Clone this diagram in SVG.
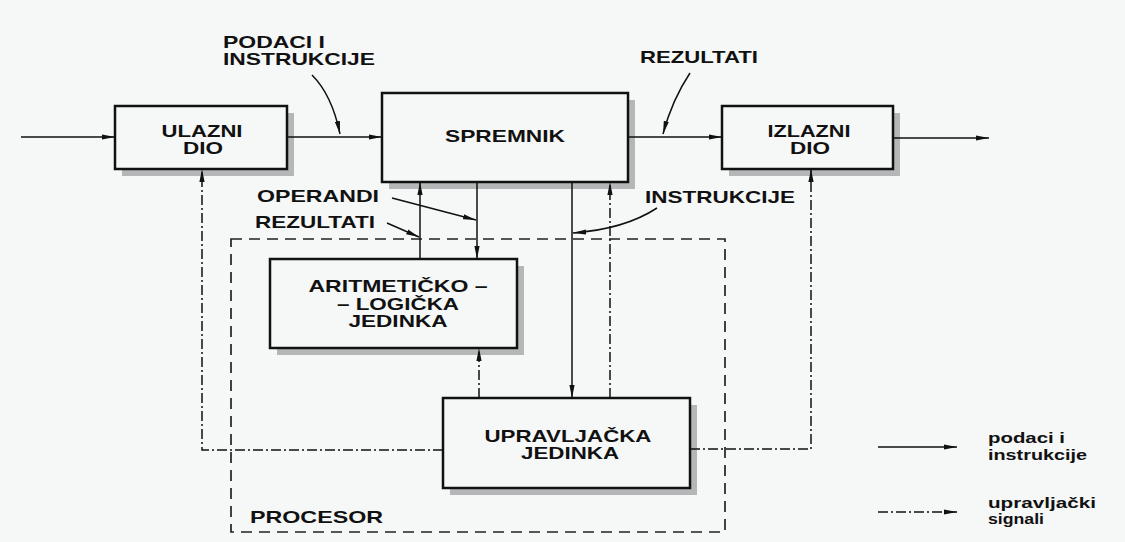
<svg xmlns="http://www.w3.org/2000/svg" width="1125" height="542" viewBox="0 0 1125 542">
<defs>
<marker id="ah" viewBox="0 0 13 6" refX="13" refY="3" markerWidth="13" markerHeight="6" markerUnits="userSpaceOnUse" orient="auto">
<path d="M0,0.4 L13,3 L0,5.6 Z" fill="#111"/>
</marker>
</defs>
<style>
.box{fill:#f6f7f7;stroke:#111;stroke-width:2.5}
.sh{fill:#b4b6b8}
.t{font-family:"Liberation Sans",Arial,sans-serif;font-weight:bold;font-size:17px;fill:#111}
.lg{font-family:"Liberation Sans",Arial,sans-serif;font-weight:bold;font-size:15px;fill:#111}
.s{fill:none;stroke:#111;stroke-width:1.5}
.dd{fill:none;stroke:#111;stroke-width:1.5;stroke-dasharray:10 3 2 3}
.dash{fill:none;stroke:#222;stroke-width:1.7;stroke-dasharray:11 7}
</style>
<rect x="0" y="0" width="1125" height="542" fill="#f6f7f7"/>

<g id="procesor">
<rect x="231" y="239" width="494" height="293" class="dash"/>
<text class="t" x="250" y="523" textLength="133" lengthAdjust="spacingAndGlyphs">PROCESOR</text>
</g>

<g id="ulazni">
<rect x="122" y="113" width="172" height="63" class="sh"/>
<rect x="115" y="106" width="172" height="63" class="box"/>
<text class="t" x="202" y="137" text-anchor="middle" textLength="81" lengthAdjust="spacingAndGlyphs">ULAZNI</text>
<text class="t" x="203" y="154" text-anchor="middle" textLength="40" lengthAdjust="spacingAndGlyphs">DIO</text>
</g>

<g id="spremnik">
<rect x="389" y="100" width="246" height="89" class="sh"/>
<rect x="382" y="93" width="246" height="89" class="box"/>
<text class="t" x="505" y="142" text-anchor="middle" textLength="120" lengthAdjust="spacingAndGlyphs">SPREMNIK</text>
</g>

<g id="izlazni">
<rect x="729" y="113" width="171" height="63" class="sh"/>
<rect x="722" y="106" width="171" height="63" class="box"/>
<text class="t" x="809" y="137" text-anchor="middle" textLength="83" lengthAdjust="spacingAndGlyphs">IZLAZNI</text>
<text class="t" x="810" y="154" text-anchor="middle" textLength="40" lengthAdjust="spacingAndGlyphs">DIO</text>
</g>

<g id="alu">
<rect x="277" y="266" width="247" height="89" class="sh"/>
<rect x="270" y="259" width="247" height="89" class="box"/>
<text class="t" x="398" y="292" text-anchor="middle" textLength="179" lengthAdjust="spacingAndGlyphs">ARITMETIČKO –</text>
<text class="t" x="398" y="310" text-anchor="middle" textLength="122" lengthAdjust="spacingAndGlyphs">– LOGIČKA</text>
<text class="t" x="398" y="327" text-anchor="middle" textLength="99" lengthAdjust="spacingAndGlyphs">JEDINKA</text>
</g>

<g id="upravljacka">
<rect x="450" y="405" width="247" height="90" class="sh"/>
<rect x="443" y="398" width="247" height="90" class="box"/>
<text class="t" x="568" y="442" text-anchor="middle" textLength="167" lengthAdjust="spacingAndGlyphs">UPRAVLJAČKA</text>
<text class="t" x="570" y="459" text-anchor="middle" textLength="98" lengthAdjust="spacingAndGlyphs">JEDINKA</text>
</g>

<g id="connectors">
<path class="s" d="M21,137 H115" marker-end="url(#ah)"/>
<path class="s" d="M287,137 H382" marker-end="url(#ah)"/>
<path class="s" d="M628,137 H722" marker-end="url(#ah)"/>
<path class="s" d="M893,138 H989" marker-end="url(#ah)"/>
<path class="s" d="M420,259 V182" marker-end="url(#ah)"/>
<path class="s" d="M477,182 V259" marker-end="url(#ah)"/>
<path class="s" d="M572,182 V398" marker-end="url(#ah)"/>
<path class="dd" d="M610,398 V182" marker-end="url(#ah)"/>
<path class="dd" d="M479,398 V348" marker-end="url(#ah)"/>
<path class="dd" d="M443,450 H202 V169" marker-end="url(#ah)"/>
<path class="dd" d="M690,449 H811 V169" marker-end="url(#ah)"/>
</g>

<g id="labels">
<text class="t" x="223" y="48" textLength="102" lengthAdjust="spacingAndGlyphs">PODACI I</text>
<text class="t" x="223" y="65" textLength="152" lengthAdjust="spacingAndGlyphs">INSTRUKCIJE</text>
<path class="s" d="M312,75 Q332,95 340,134" marker-end="url(#ah)"/>
<text class="t" x="640" y="63" textLength="118" lengthAdjust="spacingAndGlyphs">REZULTATI</text>
<path class="s" d="M690,73 Q672,100 663,134" marker-end="url(#ah)"/>
<text class="t" x="257" y="202" textLength="122" lengthAdjust="spacingAndGlyphs">OPERANDI</text>
<path class="s" d="M392,198 L476,220" marker-end="url(#ah)"/>
<text class="t" x="255" y="228" textLength="120" lengthAdjust="spacingAndGlyphs">REZULTATI</text>
<path class="s" d="M387,223 L419,237" marker-end="url(#ah)"/>
<text class="t" x="645" y="203" textLength="150" lengthAdjust="spacingAndGlyphs">INSTRUKCIJE</text>
<path class="s" d="M657,208 Q625,229 573,233" marker-end="url(#ah)"/>
</g>

<g id="legend">
<path class="s" d="M878,447 H957" marker-end="url(#ah)"/>
<text class="lg" x="988" y="443" textLength="77" lengthAdjust="spacingAndGlyphs">podaci i</text>
<text class="lg" x="988" y="460" textLength="99" lengthAdjust="spacingAndGlyphs">instrukcije</text>
<path class="dd" d="M878,512 H957" marker-end="url(#ah)"/>
<text class="lg" x="988" y="508" textLength="108" lengthAdjust="spacingAndGlyphs">upravljački</text>
<text class="lg" x="988" y="524" textLength="56" lengthAdjust="spacingAndGlyphs">signali</text>
</g>
</svg>
